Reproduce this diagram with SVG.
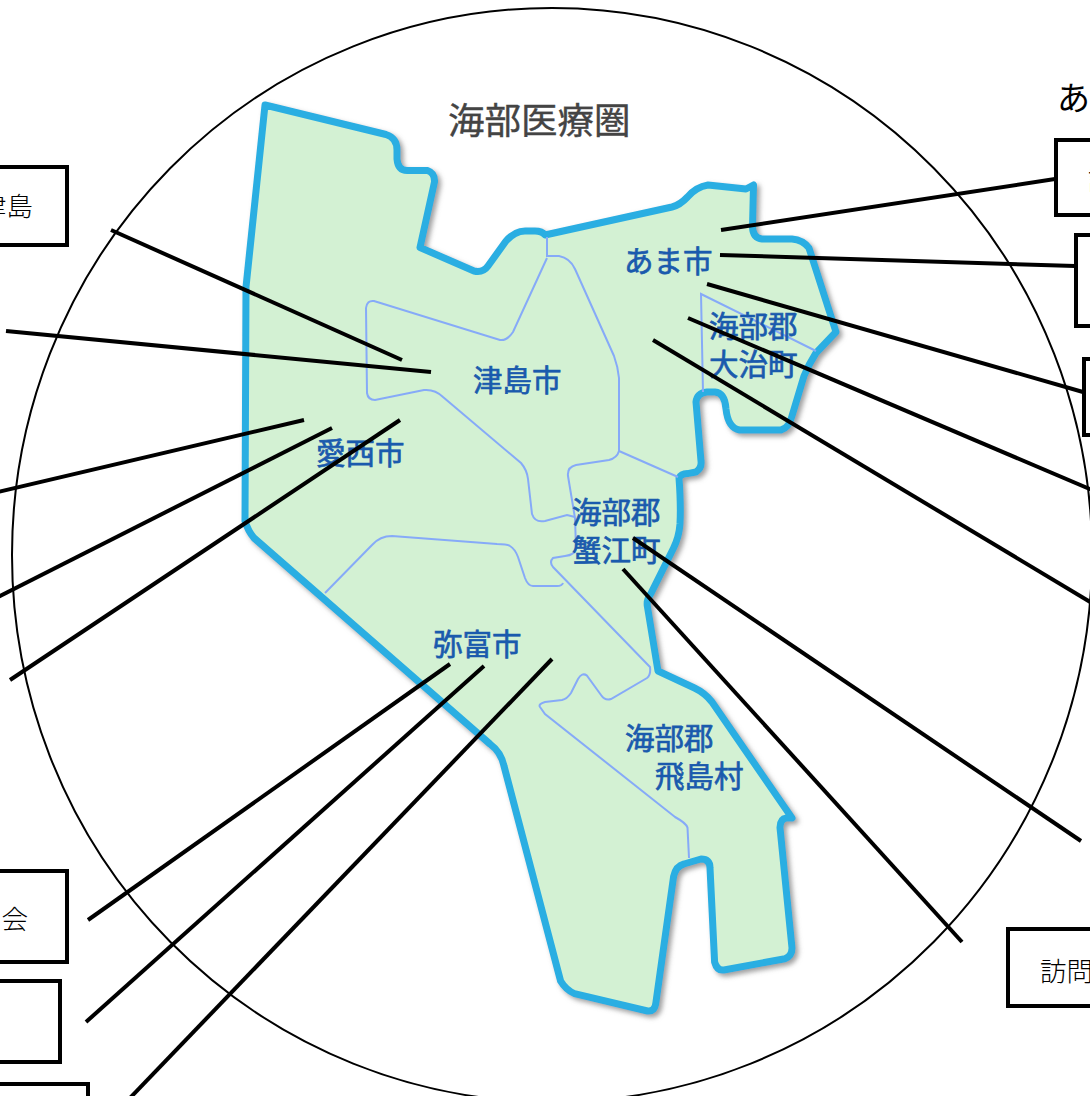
<svg xmlns="http://www.w3.org/2000/svg" width="1090" height="1096" viewBox="0 0 1090 1096">
<style>
text{font-family:"Noto Sans CJK JP","Noto Sans",sans-serif}
.box{fill:#fff;stroke:#000;stroke-width:4}
.boxt{font-size:26.500px;fill:#000;font-weight:300}
.area{font-size:29.500px;fill:#1a5aad;stroke:#1a5aad;stroke-width:.7}
.bound{fill:none;stroke:#86aaf8;stroke-width:2}
#connectors line{stroke:#000;stroke-width:4}
</style>
<defs>
<filter id="sh" x="-5%" y="-5%" width="112%" height="112%"><feDropShadow dx="3" dy="3" stdDeviation="2.500" flood-color="#777" flood-opacity=".7"/></filter>
</defs>
<rect width="1090" height="1096" fill="#fff"/>
<ellipse id="zone" cx="552" cy="555" rx="540" ry="547" fill="none" stroke="#000" stroke-width="2"/>
<g id="map">
<path filter="url(#sh)" fill="#d3f1d3" stroke="#2aaee2" stroke-width="7" stroke-linejoin="round" d="M265 105L386 134.500Q397 138 397 150L397 159Q398 170.500 407 170.500L427.500 170.500Q435 173 434.500 182L420 247.500L474 271Q483 273 488 266L506 241Q515 231 525 231L535 231Q542 231 545 235L672 207Q680 205 687.500 197Q696 187 708 185L746 189L753.500 185L752.500 227Q753 238 762 239L792 239Q803 240 809 248L836 332L816 353Q809 364 804 376L792 416Q789 428 781 430L739.600 430Q728 428 726 409Q725 393 715 392L707 392Q697 393 696 402L701 461Q702 468 696 472L687.500 473.600Q681 474 679 478Q681 505 680 524Q679 537 673.600 548L651 593.400Q646 600 647.500 607L658 671L694.500 688Q705 693 712 702L792 818L786.500 818Q780 819 780 827.600L792 948Q792 956 785 958.700L724 970Q717 971 714.600 962L710 868Q710 859 701 859L684 864Q676 866 673.600 876.500L656 1002Q655 1012 647.500 1011L574.500 993.600Q566 990 560.600 981L504 766Q501 752 490 744L254 538Q248 531 245 521L246 287Z"/>
<path class="bound" d="M547 258L513 332Q507 341 500 340L374 301Q367 300 366 308L367 393Q368 400 375 400L424 390Q435 389 443 397L521 463Q527 470 528 479L532 514Q535 523 545 521L567 515L575 517"/>
<path class="bound" d="M547 237L547 256L559 256Q570 258 575 269L614 356Q618 367 619 378L619 451Q617 458 609 460L576 465Q567 467 568 476L575 518L576 548Q575 555 565 556L553 558Q549 562 553 567L650 667Q651 675 647 678L611 699Q605 701 601 695L587 675.600Q582 672 578 679L571 693Q567 699 562 700L545 702Q538 704 540 707L545 714L675 817Q686 823 687.500 827.600L689 858"/>
<path class="bound" d="M325 593L372 545Q380 536 392 536L497 544Q507 544 510 546Q515 549 518 557L525 578Q528 586 533 586L557 586Q562 586 563 583"/>
<path class="bound" d="M619 451L678 477"/>
<path class="bound" d="M816 351L701 294L703 392"/>
</g>
<g id="area-title"><text x="448" y="134" font-size="36.500px" fill="#444" stroke="#444" stroke-width=".4">海部医療圏</text></g>
<g id="tsushima"><text class="area" x="473" y="391">津島市</text></g>
<g id="aisai"><text class="area" x="316" y="464">愛西市</text></g>
<g id="ama"><text class="area" x="624" y="272">あま市</text></g>
<g id="oharu"><text class="area" x="709" y="337">海部郡</text><text class="area" x="709" y="375">大治町</text></g>
<g id="kanie"><text class="area" x="572" y="523">海部郡</text><text class="area" x="572" y="561">蟹江町</text></g>
<g id="yatomi"><text class="area" x="433" y="655">弥富市</text></g>
<g id="tobishima"><text class="area" x="625" y="749">海部郡</text><text class="area" x="655" y="787">飛島村</text></g>
<g id="ama-heading"><text x="1057" y="110" font-size="33px" fill="#000">あ</text></g>
<g id="box-l1"><rect class="box" x="-30" y="167" width="97" height="78"/><text class="boxt" x="33" y="216" text-anchor="end">津島</text></g>
<g id="box-l2"><rect class="box" x="-30" y="871" width="97" height="91"/><text class="boxt" x="28" y="929" text-anchor="end">会</text></g>
<g id="box-l3"><rect class="box" x="-30" y="981" width="90" height="81"/></g>
<g id="box-l4"><rect class="box" x="-30" y="1084" width="118" height="40"/></g>
<g id="box-r1"><rect class="box" x="1056" y="140" width="70" height="75"/><text class="boxt" x="1088" y="190">訪</text></g>
<g id="box-r2"><rect class="box" x="1076" y="235" width="50" height="91"/></g>
<g id="box-r3"><rect class="box" x="1084" y="359" width="50" height="76"/></g>
<g id="box-r4"><rect class="box" x="1008" y="929" width="120" height="77"/><text class="boxt" x="1040" y="981">訪問</text></g>
<g id="connectors">
<line x1="111" y1="230" x2="402" y2="360"/>
<line x1="6" y1="331" x2="431" y2="372"/>
<line x1="-2" y1="492" x2="304" y2="420"/>
<line x1="-2" y1="597" x2="332" y2="428"/>
<line x1="10" y1="680" x2="400" y2="420"/>
<line x1="721" y1="230" x2="1055" y2="179"/>
<line x1="720" y1="255" x2="1075" y2="266"/>
<line x1="707" y1="284" x2="1083" y2="392"/>
<line x1="688" y1="318" x2="1092" y2="490"/>
<line x1="653" y1="340" x2="1092" y2="603"/>
<line x1="633" y1="538" x2="1081" y2="841"/>
<line x1="623" y1="569" x2="962" y2="942"/>
<line x1="450" y1="664" x2="88" y2="920"/>
<line x1="484" y1="666" x2="86" y2="1022"/>
<line x1="552" y1="659" x2="130" y2="1098"/>
</g>
</svg>
